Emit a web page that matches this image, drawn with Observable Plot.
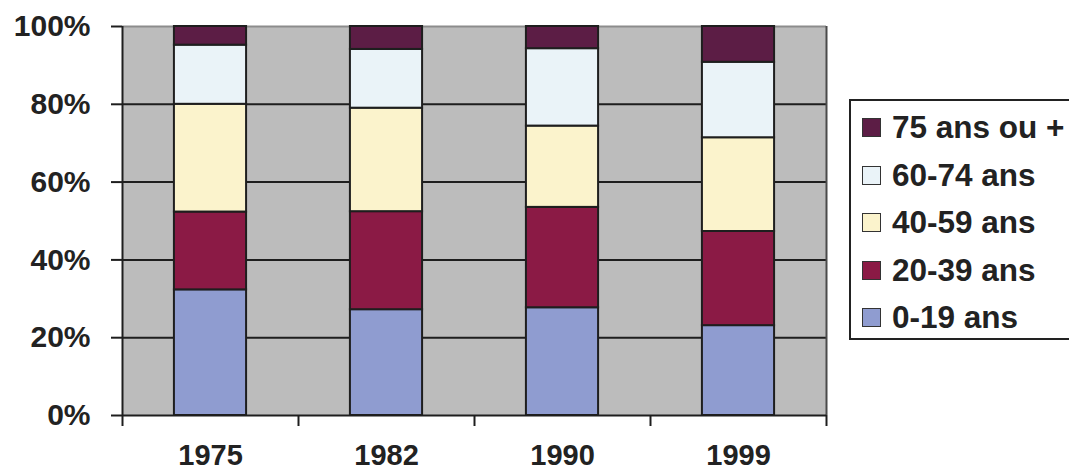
<!DOCTYPE html>
<html><head><meta charset="utf-8">
<script src="https://cdn.jsdelivr.net/npm/d3@7"></script>
<script src="https://cdn.jsdelivr.net/npm/@observablehq/plot@0.6"></script>
<style>
body{margin:0;background:#fff;font-family:"Liberation Sans",Arial,sans-serif;}
#wrap{position:relative;width:1069px;height:475px;overflow:hidden;}
#legend{position:absolute;left:849px;top:99px;width:320px;height:241px;border:2px solid #222;background:#fff;box-sizing:border-box;padding-top:3px;padding-left:11px;}
.item{height:47.5px;display:flex;align-items:center;font-weight:bold;font-size:31.5px;color:#222;white-space:nowrap;}
.sw{width:17px;height:17px;border:1.5px solid #333;margin-right:11px;flex:none;}
</style></head>
<body><div id="wrap"></div>
<script>
const years = ["1975", "1982", "1990", "1999"];
const groups = ["0-19 ans", "20-39 ans", "40-59 ans", "60-74 ans", "75 ans ou +"];
const colors = ["#8f9cd0", "#8b1a45", "#fbf3cc", "#eaf3f8", "#5c1d45"];
const v0_19  = [32.3, 27.2, 27.7, 23.1];
const v20_39 = [20.0, 25.2, 25.8, 24.2];
const v40_59 = [27.7, 26.6, 20.9, 24.1];
const v60_74 = [15.2, 15.1, 19.9, 19.4];
const v75    = [4.8, 5.9, 5.7, 9.2];
const yTicks = [0, 20, 40, 60, 80, 100];

const series = [v0_19, v20_39, v40_59, v60_74, v75];
const rows = [];
years.forEach((year, i) => {
  groups.forEach((g, k) => rows.push({year, idx: i, group: g, value: series[k][i]}));
});

const ink = "#1e1e1e";
const chart = Plot.plot({
  width: 1069,
  height: 475,
  marginLeft: 122,
  marginRight: 243,
  marginTop: 26,
  marginBottom: 60,
  style: {fontFamily: "'Liberation Sans', Arial, sans-serif", color: "#222", background: "transparent", overflow: "visible"},
  x: {domain: [0, years.length]},
  y: {domain: [0, 100]},
  color: {domain: groups, range: colors},
  marks: [
    Plot.frame({fill: "#bcbcbc", stroke: null}),
    Plot.ruleY([20, 40, 60, 80], {stroke: ink, strokeWidth: 2}),
    Plot.ruleY([100], {stroke: "#8c8c8c", strokeWidth: 2}),
    Plot.ruleX([years.length], {stroke: "#4a4a4a", strokeWidth: 2}),
    Plot.rectY(rows, {
      x1: d => d.idx + 0.295,
      x2: d => d.idx + 0.705,
      y: "value",
      fill: "group",
      stroke: ink,
      strokeWidth: 2
    }),
    Plot.ruleX([0], {stroke: ink, strokeWidth: 2}),
    Plot.ruleY([0], {stroke: ink, strokeWidth: 2}),
    Plot.axisY({ticks: yTicks, tickFormat: d => d + "%", tickSize: 11, tickPadding: 21, fontSize: 30, fontWeight: "bold", stroke: ink, strokeWidth: 2, label: null}),
    Plot.axisX({ticks: d3.range(years.length + 1), tickFormat: () => "", tickSize: 11, stroke: ink, strokeWidth: 2, label: null}),
    Plot.axisX({ticks: years.map((y, i) => i + 0.5), tickFormat: d => years[Math.floor(d)], tickSize: 0, tickPadding: 29, fontSize: 29, fontWeight: "bold", label: null})
  ]
});

const wrap = document.getElementById("wrap");
wrap.appendChild(chart);
const legend = document.createElement("div");
legend.id = "legend";
groups.slice().reverse().forEach((g) => {
  const it = document.createElement("div");
  it.className = "item";
  const sw = document.createElement("span");
  sw.className = "sw";
  sw.style.background = colors[groups.indexOf(g)];
  it.appendChild(sw);
  it.appendChild(document.createTextNode(g));
  legend.appendChild(it);
});
wrap.appendChild(legend);
</script>
</body></html>
